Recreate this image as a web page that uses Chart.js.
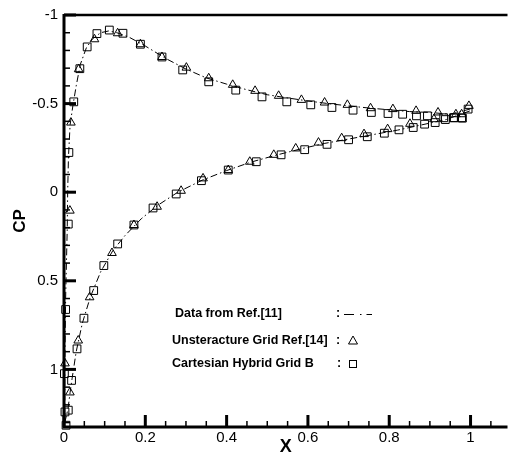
<!DOCTYPE html>
<html>
<head>
<meta charset="utf-8">
<script src="https://cdn.jsdelivr.net/npm/chart.js@4/dist/chart.umd.min.js"></script>
<style>
  body { margin: 0; background: #fff; }
  #wrap { width: 514px; height: 466px; }
</style>
</head>
<body>
<div id="wrap"><canvas id="chart"></canvas></div>
<script>
// Data from Ref.[11] (dash-dot line), upper surface TE -> LE -> lower surface TE
const refX  = [1.0, 0.95, 0.9, 0.85, 0.8, 0.75, 0.7, 0.65, 0.6, 0.55, 0.5, 0.45, 0.4, 0.35, 0.3, 0.25, 0.2, 0.16, 0.13, 0.11, 0.09, 0.07, 0.055, 0.04, 0.03, 0.022, 0.015, 0.011, 0.009, 0.008, 0.004, 0.002, 0.002, 0.01, 0.015, 0.02, 0.03, 0.045, 0.065, 0.09, 0.12, 0.15, 0.19, 0.23, 0.28, 0.34, 0.4, 0.46, 0.52, 0.58, 0.64, 0.7, 0.76, 0.82, 0.88, 0.94, 1.0];
const refCp = [-0.47, -0.44, -0.45, -0.455, -0.465, -0.475, -0.487, -0.5, -0.515, -0.532, -0.55, -0.578, -0.61, -0.645, -0.695, -0.755, -0.825, -0.875, -0.9, -0.91, -0.9, -0.865, -0.815, -0.72, -0.6, -0.49, -0.38, -0.2, 0.0, 0.2, 0.6, 1.0, 1.3, 1.22, 1.13, 1.05, 0.9, 0.74, 0.59, 0.45, 0.33, 0.245, 0.15, 0.075, 0.0, -0.068, -0.122, -0.17, -0.208, -0.243, -0.275, -0.3, -0.325, -0.35, -0.38, -0.41, -0.46];

// Unsteracture Grid Ref.[14] (triangles)
const triX  = [0.996, 0.978, 0.964, 0.92, 0.866, 0.809, 0.754, 0.697, 0.641, 0.584, 0.528, 0.47, 0.415, 0.356, 0.301, 0.241, 0.188, 0.132, 0.075, 0.036, 0.017, 0.0145, 0.0024, 0.0145, 0.035, 0.063, 0.118, 0.172, 0.229, 0.288, 0.342, 0.404, 0.457, 0.516, 0.57, 0.626, 0.683, 0.738, 0.796, 0.851, 0.91];
const triCp = [-0.487, -0.44, -0.44, -0.45, -0.459, -0.469, -0.474, -0.493, -0.506, -0.521, -0.544, -0.572, -0.606, -0.643, -0.703, -0.763, -0.835, -0.897, -0.863, -0.694, -0.393, 0.104, 0.966, 1.13, 0.837, 0.593, 0.343, 0.185, 0.082, -0.008, -0.078, -0.125, -0.172, -0.211, -0.247, -0.28, -0.305, -0.328, -0.356, -0.386, -0.412];

// Cartesian Hybrid Grid B (squares)
const sqX  = [0.994, 0.978, 0.96, 0.934, 0.894, 0.867, 0.833, 0.797, 0.756, 0.711, 0.659, 0.607, 0.548, 0.487, 0.4225, 0.356, 0.292, 0.241, 0.188, 0.145, 0.1115, 0.081, 0.057, 0.039, 0.024, 0.012, 0.0105, 0.004, 0.001, 0.0024, 0.0105, 0.005, 0.0186, 0.032, 0.049, 0.073, 0.098, 0.132, 0.172, 0.219, 0.276, 0.338, 0.404, 0.473, 0.534, 0.592, 0.647, 0.7, 0.746, 0.788, 0.824, 0.859, 0.887, 0.913, 0.938, 0.958, 0.98];
const sqCp = [-0.469, -0.42, -0.42, -0.42, -0.431, -0.431, -0.44, -0.444, -0.45, -0.463, -0.478, -0.493, -0.51, -0.538, -0.576, -0.623, -0.69, -0.763, -0.835, -0.897, -0.915, -0.895, -0.82, -0.697, -0.51, -0.224, 0.18, 0.662, 1.024, 1.24, 1.23, 1.315, 1.062, 0.884, 0.711, 0.555, 0.414, 0.292, 0.185, 0.089, 0.01, -0.065, -0.125, -0.172, -0.211, -0.24, -0.27, -0.296, -0.313, -0.333, -0.352, -0.365, -0.384, -0.393, -0.41, -0.42, -0.418];

const xTicks = [0, 0.2, 0.4, 0.6, 0.8, 1];
const yTicks = [-1, -0.5, 0, 0.5, 1];
const legendLabels = ['Data from Ref.[11]', 'Unsteracture Grid Ref.[14]', 'Cartesian Hybrid Grid B'];

const pts = (xs, ys) => xs.map((x, i) => ({x: x, y: ys[i]}));
const fmt = v => String(Math.round(v * 100) / 100);

const axesPlugin = {
    id: 'axesPlugin',
    afterDraw(chart) {
        const ctx = chart.ctx;
        const a = chart.chartArea;
        const xs = chart.scales.x, ys = chart.scales.y;
        ctx.save();
        ctx.strokeStyle = '#000';
        // ticks pointing inside
        for (let i = 0; i <= 22; i++) {
            const v = i * 0.05;
            if (v > xs.max) break;
            const major = i % 4 === 0;
            const px = xs.getPixelForValue(v);
            ctx.lineWidth = major ? 3 : 1.5;
            ctx.beginPath();
            ctx.moveTo(px, a.bottom);
            ctx.lineTo(px, a.bottom - (major ? 12 : 6));
            ctx.stroke();
        }
        for (let i = -10; i <= 13; i++) {
            const v = i / 10;
            const major = i % 5 === 0;
            const py = ys.getPixelForValue(v);
            ctx.lineWidth = major ? 3 : 1.5;
            ctx.beginPath();
            ctx.moveTo(a.left, py);
            ctx.lineTo(a.left + (major ? 12 : 6), py);
            ctx.stroke();
        }
        // frame
        ctx.lineWidth = 3;
        ctx.beginPath();
        ctx.moveTo(a.left, a.top - 1);
        ctx.lineTo(a.left, a.bottom);
        ctx.lineTo(a.right, a.bottom);
        ctx.stroke();
        ctx.lineWidth = 2.5;
        ctx.beginPath();
        ctx.moveTo(a.left, a.top);
        ctx.lineTo(a.right, a.top);
        ctx.stroke();

        // legend text block
        ctx.fillStyle = '#000';
        ctx.font = 'bold 12.5px "Liberation Sans", Arial, sans-serif';
        ctx.textBaseline = 'middle';
        const rowY = [a.top + 299, a.top + 326, a.top + 349];
        ctx.fillText(legendLabels[0], a.left + 111, rowY[0]);
        ctx.fillText(legendLabels[1], a.left + 108, rowY[1]);
        ctx.fillText(legendLabels[2], a.left + 108, rowY[2]);
        ctx.textAlign = 'center';
        ctx.fillText(':', a.left + 274, rowY[0]);
        ctx.fillText(':', a.left + 274, rowY[1]);
        ctx.fillText(':', a.left + 275, rowY[2]);
        // line sample
        ctx.lineWidth = 1;
        ctx.setLineDash([10, 6, 1.5, 5, 6]);
        ctx.beginPath();
        ctx.moveTo(a.left + 280, rowY[0] + 0.5);
        ctx.lineTo(a.left + 308, rowY[0] + 0.5);
        ctx.stroke();
        ctx.setLineDash([]);
        // triangle
        const cx = a.left + 289;
        ctx.beginPath();
        ctx.moveTo(cx, rowY[1] - 5);
        ctx.lineTo(cx + 4.5, rowY[1] + 3);
        ctx.lineTo(cx - 4.5, rowY[1] + 3);
        ctx.closePath();
        ctx.stroke();
        // square
        ctx.strokeRect(cx - 3.5, rowY[2] - 3.5, 7, 7);
        ctx.restore();
    }
};

const ctx = document.getElementById('chart').getContext('2d');
new Chart(ctx, {
    type: 'scatter',
    data: {
        datasets: [
            {
                label: legendLabels[0],
                data: pts(refX, refCp),
                showLine: true,
                borderColor: '#000',
                borderWidth: 1,
                borderDash: [7, 3, 1.5, 3],
                pointRadius: 0,
                fill: false,
                clip: false
            },
            {
                label: legendLabels[1],
                data: pts(triX, triCp),
                pointStyle: 'triangle',
                pointRadius: 5,
                borderColor: '#000',
                borderWidth: 1,
                backgroundColor: 'rgba(0,0,0,0)',
                clip: false
            },
            {
                label: legendLabels[2],
                data: pts(sqX, sqCp),
                pointStyle: 'rect',
                pointRadius: 5.5,
                borderColor: '#000',
                borderWidth: 1,
                backgroundColor: 'rgba(0,0,0,0)',
                clip: false
            }
        ]
    },
    options: {
        responsive: true,
        maintainAspectRatio: false,
        animation: false,
        layout: { padding: { top: 14, right: 0, left: 0, bottom: 0 } },
        plugins: {
            legend: { display: false },
            tooltip: { enabled: false }
        },
        scales: {
            x: {
                type: 'linear',
                min: 0,
                max: 1.0909,
                grid: { display: false, drawTicks: false },
                border: { display: false },
                afterFit: s => { s.height = 39; },
                afterBuildTicks: s => { s.ticks = xTicks.map(v => ({value: v})); },
                ticks: {
                    padding: 2,
                    color: '#000',
                    font: { family: '"Liberation Sans", Arial, sans-serif', size: 15 },
                    callback: v => fmt(v),
                    maxRotation: 0
                },
                title: {
                    display: true,
                    text: 'X',
                    color: '#000',
                    font: { family: '"Liberation Sans", Arial, sans-serif', size: 18, weight: 'bold' },
                    padding: { top: 0, bottom: 8 }
                }
            },
            y: {
                type: 'linear',
                reverse: true,
                min: -1,
                max: 1.325,
                grid: { display: false, drawTicks: false },
                border: { display: false },
                afterFit: s => { s.width = 64; },
                afterBuildTicks: s => { s.ticks = yTicks.map(v => ({value: v})); },
                ticks: {
                    padding: 6,
                    color: '#000',
                    font: { family: '"Liberation Sans", Arial, sans-serif', size: 15 },
                    callback: v => fmt(v)
                },
                title: {
                    display: true,
                    text: 'CP',
                    color: '#000',
                    font: { family: '"Liberation Sans", Arial, sans-serif', size: 17, weight: 'bold' },
                    padding: { top: 10, bottom: 0 }
                }
            }
        }
    },
    plugins: [axesPlugin]
});
</script>
</body>
</html>
